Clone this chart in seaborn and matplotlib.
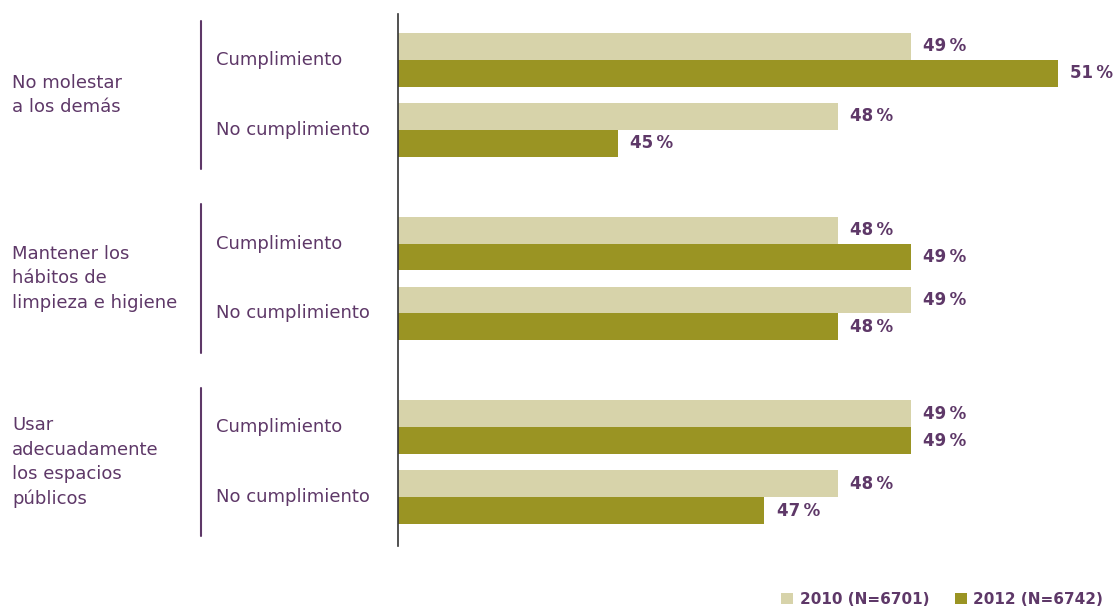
import pandas as pd
import matplotlib.pyplot as plt
import matplotlib.transforms as mtransforms
import seaborn as sns

# Datos del gráfico
grupos = ["No molestar\na los demás",
          "Mantener los\nhábitos de\nlimpieza e higiene",
          "Usar\nadecuadamente\nlos espacios\npúblicos"]
subcategorias = ["Cumplimiento", "No cumplimiento"]
anios = ["2010 (N=6701)", "2012 (N=6742)"]
valores_2010 = [49, 48, 48, 49, 49, 48]
valores_2012 = [51, 45, 49, 48, 49, 47]

# Colores
color_claro = "#D7D3AA"
color_oscuro = "#9A9423"
morado = "#5E3868"

# Armar tabla larga
paso_grupo = 184 / 70
filas = []
for g, grupo in enumerate(grupos):
    for s, sub in enumerate(subcategorias):
        i = g * len(subcategorias) + s
        pos = g * paso_grupo + s
        filas.append({"pos": pos, "valor": valores_2010[i], "anio": anios[0]})
        filas.append({"pos": pos, "valor": valores_2012[i], "anio": anios[1]})
datos = pd.DataFrame(filas)

sns.set_style("white")
plt.rcParams["font.family"] = ["DejaVu Sans"]

fig = plt.figure(figsize=(11.14, 6.07), dpi=100)
ax = fig.add_axes([398 / 1114, 1 - 546 / 607, 1 - 398 / 1114, (546 - 14) / 607])

sns.barplot(data=datos, x="valor", y="pos", hue="anio", orient="y",
            native_scale=True, palette=[color_claro, color_oscuro],
            width=0.77, errorbar=None, saturation=1, linewidth=0, ax=ax)

ultimo = datos["pos"].max()
ax.set_ylim(ultimo + 0.7, -0.657)
ax.set_xlim(42, 51.77)

# Etiquetas de valores
for cont in ax.containers:
    ax.bar_label(cont, fmt="{:.0f}\u2009%", padding=9, color=morado,
                 fontsize=12, fontweight="bold")

# Ejes
ax.set_xticks([])
ax.set_yticks([])
ax.set_xlabel("")
ax.set_ylabel("")
for lado in ["top", "right", "bottom"]:
    ax.spines[lado].set_visible(False)
ax.spines["left"].set_color("#333333")
ax.spines["left"].set_linewidth(1.2)

# Etiquetas de categorías (texto a la izquierda)
trans = mtransforms.blended_transform_factory(fig.transFigure, ax.transData)
for g, grupo in enumerate(grupos):
    centro = g * paso_grupo + 0.5
    ax.text(12 / 1114, centro, grupo, transform=trans, ha="left", va="center",
            fontsize=13, color=morado, linespacing=1.45)
    ax.plot([201 / 1114, 201 / 1114], [centro - 1.06, centro + 1.06],
            transform=trans, color=morado, lw=1.5, clip_on=False)
    for s, sub in enumerate(subcategorias):
        ax.text(216 / 1114, g * paso_grupo + s, sub, transform=trans,
                ha="left", va="center", fontsize=13, color=morado)

# Leyenda
sns.move_legend(ax, "center right", bbox_to_anchor=(1.0, -0.1), ncol=2,
                frameon=False, title=None, handlelength=0.75,
                handleheight=0.75, handletextpad=0.45, columnspacing=1.7,
                borderaxespad=0.3, prop={"size": 11, "weight": "bold"})
for t in ax.get_legend().get_texts():
    t.set_color(morado)

plt.savefig("out.png", dpi=100)
